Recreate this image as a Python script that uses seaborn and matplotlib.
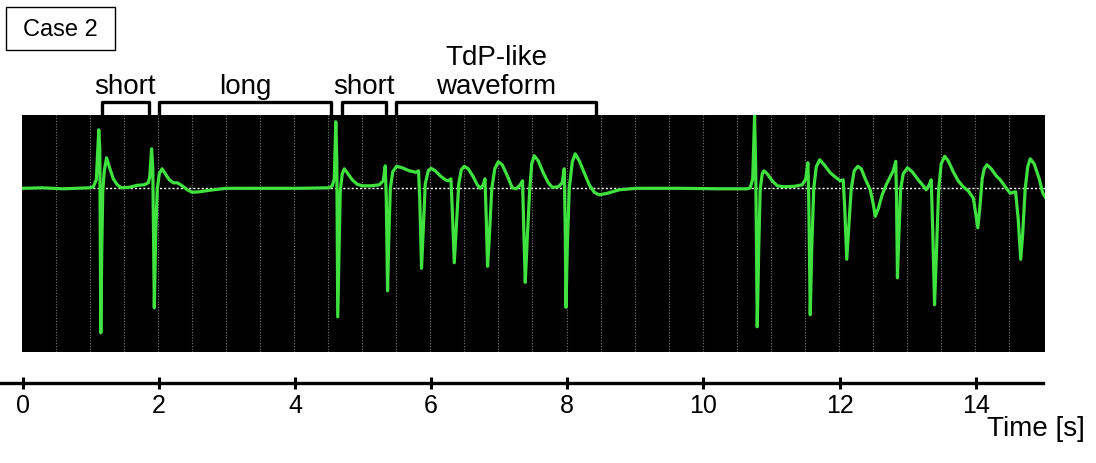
import numpy as np
import pandas as pd
import matplotlib
matplotlib.use("Agg")
import matplotlib.pyplot as plt
from matplotlib.patches import Rectangle
import seaborn as sns

# ---------------- data ----------------
# ECG trace vertices: time in seconds, amplitude in (arbitrary) mV
time_s = [
    0.00, 0.30, 0.60, 0.99,
    1.047, 1.092, 1.128, 1.143, 1.158, 1.172, 1.187, 1.209, 1.243, 1.283, 1.341, 1.400, 1.459, 1.576, 1.694, 1.797, 1.855,
    1.877, 1.904, 1.922, 1.944, 1.966, 1.988, 2.017, 2.057, 2.105, 2.164, 2.223, 2.281, 2.355, 2.428, 2.502, 2.605, 2.752, 3.001, 3.486, 4.074, 4.514,
    4.559, 4.588, 4.610, 4.625, 4.639, 4.659, 4.676, 4.705, 4.735, 4.779, 4.852, 4.926, 4.999, 5.131, 5.249, 5.308,
    5.337, 5.352, 5.371, 5.389, 5.411, 5.447, 5.503, 5.587, 5.690, 5.788, 5.826,
    5.844, 5.870, 5.895, 5.925, 5.969, 6.009, 6.072, 6.145, 6.219, 6.263, 6.302,
    6.321, 6.351, 6.380, 6.417, 6.454, 6.498, 6.556, 6.630, 6.689, 6.733, 6.777, 6.802,
    6.821, 6.840, 6.865, 6.902, 6.946, 6.997, 7.056, 7.130, 7.203, 7.262, 7.321, 7.354,
    7.372, 7.394, 7.423, 7.460, 7.489, 7.526, 7.585, 7.658, 7.732, 7.791, 7.879, 7.937, 7.967,
    7.981, 7.992, 8.011, 8.040, 8.085, 8.128, 8.187, 8.261, 8.334, 8.408, 8.481, 8.599, 8.775, 9.024, 9.656, 10.244, 10.655,
    10.699, 10.736, 10.763, 10.780, 10.802, 10.824, 10.846, 10.876, 10.901, 10.949, 11.022, 11.096, 11.199, 11.346, 11.463, 11.515,
    11.546, 11.559, 11.581, 11.603, 11.632, 11.669, 11.720, 11.786, 11.875, 11.963, 12.021, 12.065,
    12.088, 12.117, 12.146, 12.183, 12.227, 12.280, 12.330, 12.389, 12.462, 12.506, 12.536, 12.580, 12.638, 12.697, 12.756, 12.800, 12.837,
    12.849, 12.862, 12.881, 12.910, 12.947, 13.010, 13.079, 13.167, 13.241, 13.285, 13.329, 13.358,
    13.380, 13.407, 13.432, 13.468, 13.505, 13.557, 13.608, 13.682, 13.755, 13.829, 13.902, 13.978, 14.012, 14.043, 14.071,
    14.107, 14.137, 14.177, 14.240, 14.313, 14.372, 14.446, 14.519, 14.563, 14.598,
    14.636, 14.673, 14.702, 14.739, 14.776, 14.813, 14.871, 14.945, 14.996, 15.045,
]
volt_mv = [
    0.00, 0.01, -0.01, 0.01,
    0.03, 0.17, 1.17, 0.79, -2.89, -1.21, -0.05, 0.35, 0.61, 0.43, 0.19, 0.07, 0.01, 0.02, 0.06, 0.07, 0.11,
    0.23, 0.79, 0.39, -2.39, -0.81, -0.01, 0.29, 0.39, 0.29, 0.17, 0.11, 0.11, 0.05, -0.03, -0.08, -0.07, -0.04, 0.00, 0.00, 0.00, 0.01,
    0.05, 0.19, 1.33, 0.59, -2.57, -1.21, -0.05, 0.29, 0.39, 0.31, 0.17, 0.08, 0.05, 0.05, 0.07, 0.15,
    0.45, -0.21, -2.05, -1.01, -0.01, 0.33, 0.44, 0.41, 0.35, 0.32, 0.35,
    -0.21, -1.60, -0.81, 0.09, 0.35, 0.40, 0.35, 0.25, 0.17, 0.15, 0.19,
    -0.41, -1.49, -0.81, 0.09, 0.37, 0.44, 0.39, 0.23, 0.07, 0.00, 0.07, 0.19,
    -0.61, -1.56, -1.01, -0.01, 0.39, 0.53, 0.47, 0.25, 0.01, -0.01, 0.07, 0.15,
    -0.81, -1.88, -1.01, -0.01, 0.49, 0.65, 0.55, 0.31, 0.11, 0.02, 0.03, 0.11, 0.39,
    -0.81, -2.38, -1.21, -0.01, 0.53, 0.69, 0.55, 0.31, 0.07, -0.08, -0.13, -0.10, -0.03, 0.00, 0.00, -0.01, -0.01,
    0.01, 0.19, 1.45, 0.39, -2.77, -1.21, -0.01, 0.29, 0.35, 0.29, 0.15, 0.05, 0.03, 0.04, 0.07, 0.19,
    0.51, -0.21, -2.53, -1.21, -0.01, 0.43, 0.57, 0.47, 0.31, 0.21, 0.15, 0.17,
    -0.41, -1.42, -0.81, -0.01, 0.35, 0.44, 0.39, 0.19, -0.03, -0.31, -0.56, -0.41, -0.13, 0.07, 0.23, 0.35, 0.54,
    -0.21, -1.79, -1.01, -0.01, 0.29, 0.41, 0.33, 0.17, 0.05, -0.03, 0.07, 0.17,
    -0.81, -2.33, -1.41, -0.01, 0.49, 0.64, 0.55, 0.33, 0.15, 0.03, -0.05, -0.20, -0.51, -0.79, -0.41,
    0.19, 0.39, 0.47, 0.39, 0.25, 0.17, 0.03, -0.10, -0.08, -0.07,
    -0.61, -1.42, -0.91, -0.01, 0.43, 0.59, 0.49, 0.19, -0.09, -0.20,
]

# annotated rhythm segments (seconds)
seg_start = [1.175, 2.017, 4.695, 5.494]
seg_end = [1.860, 4.539, 5.347, 8.432]
seg_label = ["short", "long", "short", "TdP-like\nwaveform"]

# time axis
tick_vals = [0, 2, 4, 6, 8, 10, 12, 14]
tick_labels = ["0", "2", "4", "6", "8", "10", "12", "14"]
axis_label = "Time [s]"
case_label = "Case 2"

# ---------------- figure ----------------
sns.set_style("white")
plt.rcParams["font.family"] = ["Liberation Sans", "DejaVu Sans"]
plt.rcParams["text.color"] = "black"
plt.rcParams["xtick.color"] = "black"
plt.rcParams["xtick.labelcolor"] = "black"

W, H = 1096, 464
fig = plt.figure(figsize=(W / 100, H / 100), dpi=100)

ax = fig.add_axes([22 / W, 1 - 353 / H, 1023 / W, 237 / H])
ax.set_facecolor("black")
for t in np.arange(0.5, 15.0, 0.5):
    ax.axvline(t, color="#7a7a7a", lw=0.8, ls=(0, (1, 1.5)), zorder=1)
ax.axhline(0, color="white", lw=1.0, ls=(0, (1.5, 1.5)), zorder=2)

df = pd.DataFrame({"time_s": time_s, "mV": volt_mv})
sns.lineplot(data=df, x="time_s", y="mV", ax=ax, color="#3fe23f", lw=2.3,
             sort=False, estimator=None, zorder=3)
ax.set_xlim(0, 15.03)
ax.set_ylim(-3.274, 1.466)
ax.set_xticks([])
ax.set_yticks([])
ax.set_xlabel("")
ax.set_ylabel("")
for sp in ax.spines.values():
    sp.set_visible(False)

# brackets with labels above the trace
ytop_panel = 1.466
ybr = 1.726
for s, e, lab in zip(seg_start, seg_end, seg_label):
    ax.plot([s, s, e, e], [ytop_panel, ybr, ybr, ytop_panel], color="black", lw=2.4,
            clip_on=False, solid_joinstyle="round", solid_capstyle="butt", zorder=5)
    ax.text((s + e) / 2, 1.906, lab, ha="center", va="baseline",
            fontsize=20, linespacing=1.15, color="black", clip_on=False)

# time axis
ax2 = fig.add_axes([0, 1 - 384 / H, 1043 / W, 0.02])
ax2.patch.set_visible(False)
ax2.set_xlim(-0.3335, 14.989)
ax2.set_ylim(0, 1)
for k in ["top", "left", "right"]:
    ax2.spines[k].set_visible(False)
ax2.spines["bottom"].set_linewidth(2.4)
ax2.spines["bottom"].set_color("black")
ax2.set_xticks(tick_vals)
ax2.set_xticklabels(tick_labels, fontsize=18)
ax2.set_yticks([])
ax2.tick_params(axis="x", bottom=True, direction="inout", length=9, width=2.2,
                pad=3, colors="black")

fig.text(1085 / W, 1 - 429 / H, axis_label, ha="right", va="center", fontsize=20, color="black")

# case box
fig.patches.append(Rectangle((6 / W, 1 - 51 / H), 109 / W, 43 / H, transform=fig.transFigure,
                             fill=False, edgecolor="black", lw=1.0))
fig.text(60.5 / W, 1 - 29.5 / H, case_label, ha="center", va="center", fontsize=17, color="black")

fig.savefig("out.png", dpi=100)
